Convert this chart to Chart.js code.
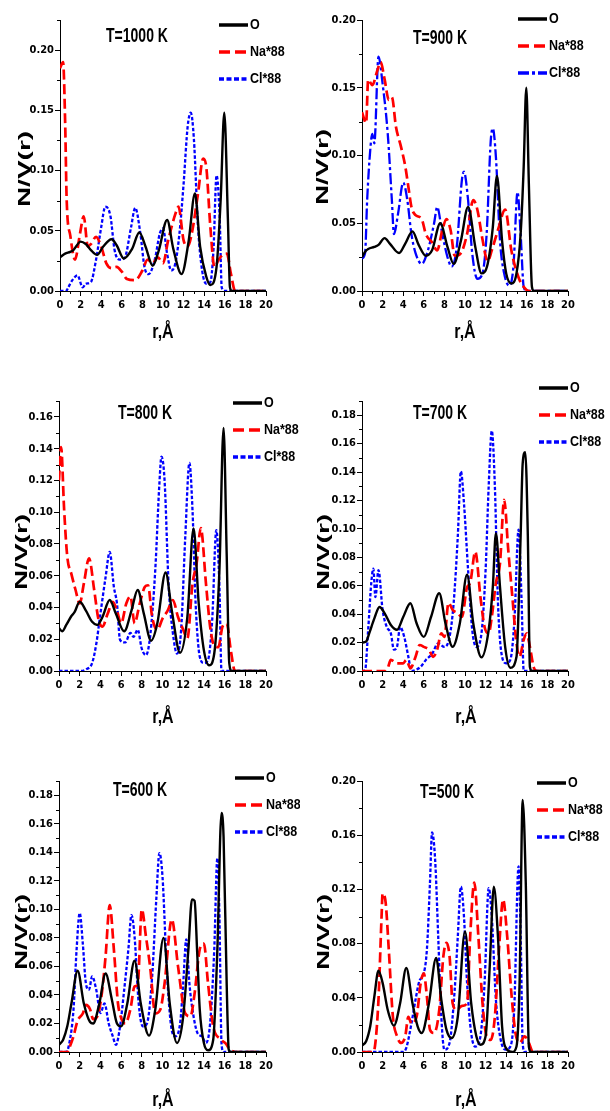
<!DOCTYPE html>
<html>
<head>
<meta charset="utf-8">
<script src="https://cdn.jsdelivr.net/npm/chart.js@4.4.1/dist/chart.umd.min.js"></script>
<style>
  body { margin: 0; background: #fff; }
  #page { position: relative; width: 610px; height: 1111px; background: #fff; }
  canvas { position: absolute; }
</style>
</head>
<body>
<div id="page"></div>
<script>
// [r (Å), N/V(r)] pairs
const O_1000 = [[0,0.028],[0.5,0.031],[1,0.0325],[1.3,0.034],[2.0,0.041],[2.5,0.039],[3.0,0.034],[3.6,0.030],[4.2,0.037],[5.0,0.043],[5.5,0.038],[6.2,0.027],[7.0,0.035],[7.7,0.0486],[8.3,0.037],[9.0,0.021],[9.6,0.034],[10.4,0.059],[11.0,0.035],[11.8,0.014],[12.5,0.042],[13.1,0.081],[13.6,0.037],[14.2,0.012],[14.6,0.005],[15.2,0.020],[15.6,0.076],[15.95,0.148],[16.3,0.060],[16.5,0.003],[16.7,0],[20,0]];
const Na_1000 = [[0,0.185],[0.3,0.19],[0.5,0.14],[0.65,0.075],[1.0,0.046],[1.45,0.026],[1.95,0.048],[2.3,0.062],[2.7,0.037],[3.0,0.039],[3.5,0.045],[4.0,0.037],[4.5,0.023],[5.0,0.019],[5.5,0.020],[6.0,0.016],[6.5,0.010],[7.3,0.009],[8.0,0.017],[8.5,0.026],[9.0,0.023],[9.5,0.028],[10.0,0.023],[10.5,0.042],[11.2,0.064],[11.5,0.070],[12.0,0.042],[12.4,0.037],[12.8,0.048],[13.4,0.081],[13.9,0.110],[14.2,0.103],[14.6,0.053],[15.0,0.020],[15.4,0.026],[15.8,0.030],[16.2,0.031],[16.6,0.014],[17.0,0],[20,0]];
const Cl_1000 = [[0,0],[0.6,0],[0.8,0.003],[1.2,0.009],[1.7,0.013],[2.2,0.003],[2.5,0.006],[3.0,0.0075],[3.5,0.026],[4.0,0.053],[4.4,0.070],[4.9,0.062],[5.3,0.034],[5.8,0.026],[6.3,0.028],[6.9,0.053],[7.3,0.069],[7.8,0.048],[8.2,0.020],[8.6,0.014],[9.2,0.026],[9.7,0.048],[10.0,0.052],[10.4,0.031],[10.8,0.017],[11.2,0.023],[11.6,0.048],[12.0,0.089],[12.4,0.137],[12.7,0.148],[13.0,0.126],[13.4,0.053],[13.8,0.017],[14.2,0.006],[14.6,0.0075],[14.9,0.034],[15.2,0.096],[15.5,0.062],[15.7,0.003],[16,0],[20,0]];

const O_900 = [[0,0.025],[0.3,0.029],[0.6,0.031],[1.2,0.0325],[1.6,0.034],[2.2,0.039],[2.7,0.035],[3.6,0.028],[4.2,0.035],[4.9,0.044],[5.5,0.034],[6.2,0.026],[6.8,0.030],[7.6,0.050],[8.3,0.0325],[8.9,0.020],[9.6,0.037],[10.3,0.062],[11.0,0.0325],[11.6,0.013],[12.2,0.020],[12.7,0.047],[13.1,0.085],[13.6,0.037],[14.0,0.013],[14.5,0.0055],[15.0,0.013],[15.4,0.042],[15.7,0.092],[15.95,0.150],[16.2,0.079],[16.5,0.003],[16.7,0],[20,0]];
const Na_900 = [[0,0.132],[0.4,0.124],[0.6,0.156],[1.0,0.152],[1.5,0.163],[1.8,0.169],[2.2,0.156],[2.6,0.141],[2.9,0.143],[3.3,0.121],[3.8,0.106],[4.2,0.092],[4.5,0.077],[4.8,0.062],[5.2,0.056],[5.8,0.053],[6.2,0.042],[6.8,0.036],[7.3,0.030],[7.8,0.045],[8.2,0.053],[8.6,0.045],[9.0,0.026],[9.6,0.028],[10.2,0.042],[10.8,0.067],[11.2,0.060],[11.7,0.038],[12.2,0.022],[12.6,0.030],[13.2,0.045],[13.9,0.060],[14.5,0.030],[15.2,0.010],[15.7,0.003],[16.2,0],[20,0]];
const Cl_900 = [[0,0.024],[0.3,0.028],[0.5,0.067],[0.8,0.104],[1.0,0.116],[1.2,0.109],[1.6,0.173],[2.0,0.153],[2.5,0.116],[2.9,0.067],[3.1,0.042],[3.5,0.057],[4.0,0.080],[4.4,0.067],[4.8,0.042],[5.2,0.028],[5.8,0.020],[6.4,0.030],[7.0,0.050],[7.3,0.062],[7.8,0.042],[8.3,0.025],[8.7,0.018],[9.2,0.0325],[9.7,0.082],[9.9,0.088],[10.3,0.067],[10.7,0.028],[11.2,0.009],[11.7,0.013],[12.1,0.042],[12.5,0.111],[12.7,0.120],[13.0,0.099],[13.4,0.037],[13.8,0.013],[14.3,0.004],[14.7,0.018],[15.1,0.073],[15.4,0.042],[15.7,0.003],[16,0],[20,0]];

const O_800 = [[0,0.027],[0.3,0.025],[0.7,0.029],[1.2,0.0346],[1.5,0.037],[2.0,0.0436],[2.6,0.038],[3.2,0.031],[3.7,0.029],[4.2,0.034],[4.9,0.0447],[5.5,0.036],[6.3,0.025],[7.0,0.038],[7.6,0.051],[8.2,0.036],[8.9,0.019],[9.5,0.030],[10.3,0.062],[10.9,0.038],[11.7,0.0115],[12.4,0.034],[13.0,0.0897],[13.5,0.0425],[14.0,0.013],[14.5,0.0036],[15.0,0.011],[15.5,0.0635],[15.9,0.153],[16.2,0.074],[16.45,0.005],[16.7,0],[20,0]];
const Na_800 = [[0,0.120],[0.2,0.141],[0.5,0.101],[0.8,0.072],[1.2,0.061],[1.6,0.051],[2.0,0.0425],[2.4,0.055],[2.9,0.071],[3.4,0.051],[3.8,0.033],[4.2,0.028],[4.7,0.036],[5.2,0.0436],[5.6,0.038],[6.0,0.030],[6.5,0.0425],[6.9,0.047],[7.3,0.030],[7.8,0.0425],[8.3,0.053],[8.6,0.054],[9.0,0.034],[9.5,0.026],[10.0,0.033],[10.5,0.038],[11.0,0.0447],[11.5,0.034],[12.0,0.026],[12.4,0.0205],[12.9,0.055],[13.3,0.068],[13.7,0.090],[14.2,0.055],[14.6,0.028],[15.0,0.016],[15.4,0.015],[15.8,0.028],[16.2,0.030],[16.6,0.013],[17.0,0],[20,0]];
const Cl_800 = [[0,0],[2.2,0],[2.6,0.001],[3.2,0.005],[3.6,0.017],[4.0,0.036],[4.5,0.059],[4.9,0.075],[5.3,0.053],[5.6,0.0425],[5.9,0.0195],[6.4,0.018],[6.9,0.024],[7.2,0.0215],[7.6,0.026],[8.0,0.014],[8.4,0.010],[8.8,0.0215],[9.3,0.0635],[9.7,0.118],[9.9,0.135],[10.2,0.120],[10.6,0.053],[11.0,0.024],[11.4,0.011],[11.8,0.026],[12.2,0.0845],[12.6,0.131],[12.9,0.101],[13.2,0.0425],[13.6,0.009],[14.0,0.005],[14.4,0.007],[14.8,0.032],[15.2,0.0887],[15.5,0.053],[15.7,0],[20,0]];

const O_700 = [[0,0.020],[0.4,0.0207],[0.7,0.0265],[1.2,0.037],[1.7,0.045],[2.2,0.0406],[2.8,0.0324],[3.4,0.029],[4.0,0.038],[4.7,0.0477],[5.3,0.0336],[6.0,0.024],[6.7,0.038],[7.5,0.0547],[8.1,0.0336],[8.8,0.017],[9.5,0.0336],[10.2,0.0677],[10.8,0.0336],[11.6,0.0096],[12.3,0.029],[12.7,0.059],[13.0,0.097],[13.4,0.059],[13.9,0.017],[14.4,0.0023],[15.0,0.010],[15.4,0.0947],[15.6,0.146],[15.85,0.154],[16.1,0.095],[16.3,0.003],[16.5,0],[20,0]];
const Na_700 = [[0,0],[2.3,0],[2.5,0.002],[2.8,0.0078],[3.4,0.0054],[4.0,0.0054],[4.3,0.0078],[4.7,0.002],[5.2,0.010],[5.6,0.0183],[6.0,0.017],[6.5,0.015],[6.9,0.010],[7.3,0.015],[7.7,0.0265],[8.0,0.024],[8.4,0.048],[8.8,0.043],[9.3,0.0406],[9.7,0.038],[10.2,0.059],[10.5,0.062],[11.0,0.084],[11.5,0.052],[11.9,0.031],[12.3,0.0265],[12.6,0.038],[13.0,0.062],[13.4,0.076],[13.8,0.1205],[14.2,0.085],[14.6,0.052],[15.0,0.0195],[15.3,0.010],[15.7,0.022],[16.0,0.0265],[16.3,0.017],[16.7,0.002],[17,0],[20,0]];
const Cl_700 = [[0,0],[0.3,0.0007],[0.6,0.029],[0.9,0.062],[1.1,0.072],[1.3,0.052],[1.6,0.071],[2.0,0.043],[2.4,0.031],[2.8,0.0265],[3.1,0.015],[3.4,0.017],[3.7,0.031],[4.1,0.024],[4.5,0.010],[4.8,0],[5.2,0.0007],[5.7,0.003],[6.2,0.0078],[6.8,0.012],[7.4,0.0195],[8.0,0.017],[8.5,0.024],[8.9,0.048],[9.3,0.0947],[9.6,0.1405],[9.9,0.118],[10.3,0.071],[10.7,0.029],[11.1,0.017],[11.6,0.0265],[12.0,0.071],[12.3,0.130],[12.6,0.169],[12.9,0.130],[13.2,0.048],[13.6,0.010],[14.0,0.0054],[14.4,0.0078],[14.8,0.036],[15.2,0.0994],[15.5,0.048],[15.7,0],[20,0]];

const O_600 = [[0,0.005],[0.4,0.0086],[0.8,0.018],[1.2,0.034],[1.8,0.057],[2.4,0.034],[3.0,0.021],[3.3,0.020],[3.9,0.034],[4.5,0.055],[5.1,0.037],[5.6,0.020],[6.0,0.018],[6.6,0.034],[7.3,0.064],[7.9,0.034],[8.7,0.0115],[9.3,0.0297],[10.1,0.080],[10.7,0.034],[11.4,0.0063],[12.0,0.025],[12.5,0.0718],[12.85,0.107],[13.1,0.106],[13.35,0.070],[13.6,0.0297],[14.0,0.0063],[14.4,0.0012],[14.9,0.0086],[15.3,0.0718],[15.7,0.1676],[15.9,0.151],[16.2,0.048],[16.4,0.0016],[16.6,0],[20,0]];
const Na_600 = [[0,0],[0.8,0],[1.0,0.003],[1.4,0.011],[1.8,0.022],[2.3,0.027],[2.6,0.033],[3.0,0.030],[3.3,0.023],[3.7,0.025],[4.1,0.039],[4.5,0.067],[4.9,0.103],[5.3,0.072],[5.7,0.034],[6.0,0.024],[6.4,0.020],[6.9,0.030],[7.3,0.046],[7.6,0.047],[8.0,0.100],[8.4,0.081],[8.8,0.060],[9.3,0.027],[9.8,0.030],[10.2,0.048],[10.9,0.093],[11.5,0.060],[12.2,0.027],[12.7,0.025],[13.1,0.041],[13.6,0.072],[14.0,0.076],[14.4,0.048],[14.9,0.018],[15.6,0.009],[16.1,0.006],[16.5,0.002],[17,0],[20,0]];
const Cl_600 = [[0,0],[0.7,0],[1.0,0.0063],[1.4,0.0297],[1.7,0.0718],[2.0,0.0975],[2.3,0.076],[2.6,0.048],[2.9,0.0437],[3.2,0.053],[3.6,0.0437],[4.0,0.0273],[4.4,0.034],[4.8,0.020],[5.2,0.011],[5.5,0.005],[5.9,0.018],[6.3,0.0437],[6.7,0.0718],[7.0,0.096],[7.3,0.081],[7.7,0.034],[8.1,0.018],[8.5,0.020],[9.0,0.053],[9.4,0.107],[9.7,0.1395],[10.0,0.123],[10.4,0.060],[10.8,0.020],[11.2,0.011],[11.7,0.020],[12.0,0.048],[12.3,0.079],[12.6,0.048],[13.0,0.025],[13.4,0.013],[13.8,0.011],[14.2,0.0063],[14.6,0.020],[15.0,0.0718],[15.3,0.136],[15.5,0.095],[15.7,0.0063],[15.9,0],[20,0]];

const O_500 = [[0,0.0047],[0.4,0.008],[0.8,0.019],[1.2,0.041],[1.6,0.060],[2.0,0.051],[2.5,0.031],[3.1,0.0195],[3.7,0.036],[4.3,0.062],[4.9,0.036],[5.4,0.019],[5.8,0.014],[6.5,0.036],[7.2,0.0695],[7.7,0.0387],[8.2,0.0165],[8.7,0.0103],[9.3,0.026],[10.0,0.089],[10.6,0.036],[11.1,0.0116],[11.5,0.0054],[12.0,0.0116],[12.4,0.063],[12.8,0.122],[13.2,0.085],[13.6,0.019],[14.1,0.0017],[14.6,0],[15.0,0.004],[15.3,0.051],[15.6,0.186],[15.9,0.125],[16.2,0.004],[16.4,0],[20,0]];
const Na_500 = [[0,0],[1.1,0],[1.3,0.0067],[1.6,0.0387],[1.9,0.100],[2.0,0.117],[2.3,0.110],[2.6,0.0756],[3.0,0.026],[3.4,0.0116],[3.8,0.0067],[4.2,0.0116],[4.5,0.026],[4.8,0.021],[5.3,0.026],[5.7,0.051],[6.0,0.058],[6.3,0.041],[6.6,0.0165],[7.0,0.014],[7.5,0.031],[7.9,0.0707],[8.2,0.0805],[8.5,0.0707],[8.8,0.036],[9.2,0.031],[9.7,0.034],[10.2,0.036],[10.5,0.085],[10.9,0.125],[11.3,0.085],[11.7,0.036],[12.1,0.0116],[12.5,0.009],[12.9,0.026],[13.3,0.0756],[13.7,0.1125],[14.1,0.085],[14.5,0.0436],[14.9,0.014],[15.3,0.0067],[15.8,0.0116],[16.2,0.0067],[16.6,0],[20,0]];
const Cl_500 = [[0,0],[4.0,0],[4.3,0.003],[4.8,0.021],[5.2,0.0387],[5.6,0.053],[5.9,0.056],[6.3,0.0756],[6.6,0.125],[6.8,0.162],[7.1,0.142],[7.4,0.085],[7.7,0.026],[8.0,0.0017],[8.5,0.0067],[9.0,0.046],[9.3,0.085],[9.6,0.122],[9.9,0.100],[10.2,0.051],[10.6,0.014],[11.0,0.004],[11.5,0.0116],[11.9,0.051],[12.3,0.121],[12.6,0.100],[13.0,0.0387],[13.4,0.0116],[13.9,0.0017],[14.4,0.004],[14.8,0.036],[15.1,0.125],[15.2,0.137],[15.4,0.088],[15.6,0.0067],[15.8,0],[20,0]];

const temps = [1000, 900, 800, 700, 600, 500];
const yMaxes = [0.225, 0.2, 0.17, 0.19, 0.19, 0.2];
const yMajor = [0.05, 0.05, 0.02, 0.02, 0.02, 0.04];
const seriesNames = ["O", "Na*88", "Cl*88"];
const oData = [O_1000, O_900, O_800, O_700, O_600, O_500];
const naData = [Na_1000, Na_900, Na_800, Na_700, Na_600, Na_500];
const clData = [Cl_1000, Cl_900, Cl_800, Cl_700, Cl_600, Cl_500];

// page layout: canvas box [x,y,w,h], plot area [l,t,r,b], label anchors
const layouts = [
  { box: [0, 0, 300, 350],     area: [60, 20, 266, 291],   title: [137, 36],  legend: [219, 25],  xTitle: [163, 332],  yTitle: [26, 169] },
  { box: [300, 0, 310, 350],   area: [362, 20, 568, 291],  title: [440, 38],  legend: [518, 19],  xTitle: [465, 332],  yTitle: [324, 167] },
  { box: [0, 355, 300, 385],   area: [59, 401, 266, 671],  title: [145, 413], legend: [233, 403], xTitle: [163, 717],  yTitle: [23, 552] },
  { box: [300, 355, 310, 385], area: [362, 401, 568, 671], title: [440, 413], legend: [539, 388], xTitle: [466, 717],  yTitle: [325, 552] },
  { box: [0, 740, 300, 371],   area: [59, 781, 266, 1052], title: [140, 790], legend: [235, 778], xTitle: [163, 1100], yTitle: [23, 932] },
  { box: [300, 740, 310, 371], area: [362, 781, 568, 1052], title: [447, 792], legend: [537, 783], xTitle: [466, 1100], yTitle: [325, 932] }
];

const SANS = "'Liberation Sans', Arial, sans-serif";
const NARROW = "'Liberation Sans Narrow', 'Arial Narrow', 'DejaVu Sans Condensed', sans-serif";

function drawStretched(ctx, text, x, y, font, sx, sy, rot, align) {
  ctx.save();
  ctx.translate(x, y);
  if (rot) ctx.rotate(rot);
  ctx.scale(sx, sy);
  ctx.font = font;
  ctx.fillStyle = "#000";
  ctx.textAlign = align || "center";
  ctx.textBaseline = "middle";
  ctx.fillText(text, 0, 0);
  ctx.restore();
}

const decorPlugin = {
  id: "decor",
  afterDraw(chart, args, opts) {
    const L = opts.layout;
    const ctx = chart.ctx;
    const ox = L.box[0], oy = L.box[1];
    const xs = chart.scales.x, ys = chart.scales.y;
    const area = chart.chartArea;

    // minor ticks
    ctx.save();
    ctx.strokeStyle = "#000";
    ctx.lineWidth = 1;
    ctx.beginPath();
    for (let v = 1; v < 20; v += 2) {
      const px = Math.round(xs.getPixelForValue(v)) + 0.5;
      ctx.moveTo(px, area.bottom);
      ctx.lineTo(px, area.bottom + 3);
    }
    const half = opts.major / 2;
    for (let k = 1; k * half <= opts.max + 1e-9; k += 2) {
      const py = Math.round(ys.getPixelForValue(k * half)) + 0.5;
      ctx.moveTo(area.left, py);
      ctx.lineTo(area.left - 3, py);
    }
    ctx.stroke();
    ctx.restore();

    // legend
    chart.data.datasets.forEach((ds, i) => {
      const lx = L.legend[0] - ox;
      const ly = L.legend[1] - oy + i * 27;
      ctx.save();
      ctx.strokeStyle = ds.borderColor;
      ctx.lineWidth = 3.5;
      ctx.setLineDash(ds.legendDash || []);
      ctx.beginPath();
      ctx.moveTo(lx, ly);
      ctx.lineTo(lx + 29, ly);
      ctx.stroke();
      ctx.restore();
      drawStretched(ctx, ds.label, lx + 31, ly, "bold 12.5px " + SANS, 1, 1.2, 0, "left");
    });

    drawStretched(ctx, opts.title, L.title[0] - ox, L.title[1] - oy, "bold 14px " + SANS, 1, 1.5, 0);
    drawStretched(ctx, "r,Å", L.xTitle[0] - ox, L.xTitle[1] - oy, "bold 16px " + SANS, 1, 1.3, 0);
    drawStretched(ctx, "N/V(r)", L.yTitle[0] - ox, L.yTitle[1] - oy, "bold 16px " + SANS, 1.75, 1, -Math.PI / 2);
  }
};

const page = document.getElementById("page");

function toPoints(pairs) {
  return pairs.map(p => ({ x: p[0], y: p[1] }));
}

temps.forEach((t, i) => {
  const L = layouts[i];
  const canvas = document.createElement("canvas");
  canvas.width = L.box[2];
  canvas.height = L.box[3];
  canvas.style.left = L.box[0] + "px";
  canvas.style.top = L.box[1] + "px";
  page.appendChild(canvas);

  // the 900 K panel draws Cl dash-dot, the others short dashes
  const clDash = i === 1 ? [11, 3, 3, 3] : [3.5, 2];
  const clLegendDash = i === 1 ? [11, 3, 3, 3] : [5, 2.5];

  new Chart(canvas, {
    type: "line",
    data: {
      datasets: [
        {
          label: seriesNames[0],
          data: toPoints(oData[i]),
          borderColor: "#000000",
          borderWidth: 2.4,
          legendDash: []
        },
        {
          label: seriesNames[1],
          data: toPoints(naData[i]),
          borderColor: "#ff0000",
          borderWidth: 2.7,
          borderDash: [10, 4.5],
          legendDash: [11, 5]
        },
        {
          label: seriesNames[2],
          data: toPoints(clData[i]),
          borderColor: "#0000ff",
          borderWidth: 2.3,
          borderDash: clDash,
          legendDash: clLegendDash
        }
      ]
    },
    options: {
      responsive: false,
      animation: false,
      events: [],
      layout: {
        padding: {
          left: 0,
          bottom: 0,
          top: L.area[1] - L.box[1],
          right: L.box[0] + L.box[2] - L.area[2]
        }
      },
      elements: {
        point: { radius: 0 },
        line: { cubicInterpolationMode: "monotone", fill: false }
      },
      plugins: {
        legend: { display: false },
        tooltip: { enabled: false },
        decor: { layout: L, title: "T=" + t + " K", max: yMaxes[i], major: yMajor[i] }
      },
      scales: {
        x: {
          type: "linear",
          min: 0,
          max: 20,
          afterFit: function (scale) {
            scale.height = L.box[1] + L.box[3] - L.area[3];
          },
          ticks: {
            stepSize: 2,
            autoSkip: false,
            maxRotation: 0,
            color: "#000",
            padding: 3,
            font: { family: NARROW, size: 11, weight: "bold" }
          },
          grid: { drawOnChartArea: false, drawTicks: true, tickLength: 5, color: "#000" },
          border: { display: true, color: "#000", width: 1 }
        },
        y: {
          type: "linear",
          min: 0,
          max: yMaxes[i],
          afterFit: function (scale) {
            scale.width = L.area[0] - L.box[0];
          },
          ticks: {
            stepSize: yMajor[i],
            includeBounds: false,
            color: "#000",
            padding: 1,
            font: { family: NARROW, size: 11, weight: "bold" },
            callback: function (value) {
              return Number(value).toFixed(2);
            }
          },
          grid: { drawOnChartArea: false, drawTicks: true, tickLength: 5, color: "#000" },
          border: { display: true, color: "#000", width: 1 }
        }
      }
    },
    plugins: [decorPlugin]
  });
});
</script>
</body>
</html>
